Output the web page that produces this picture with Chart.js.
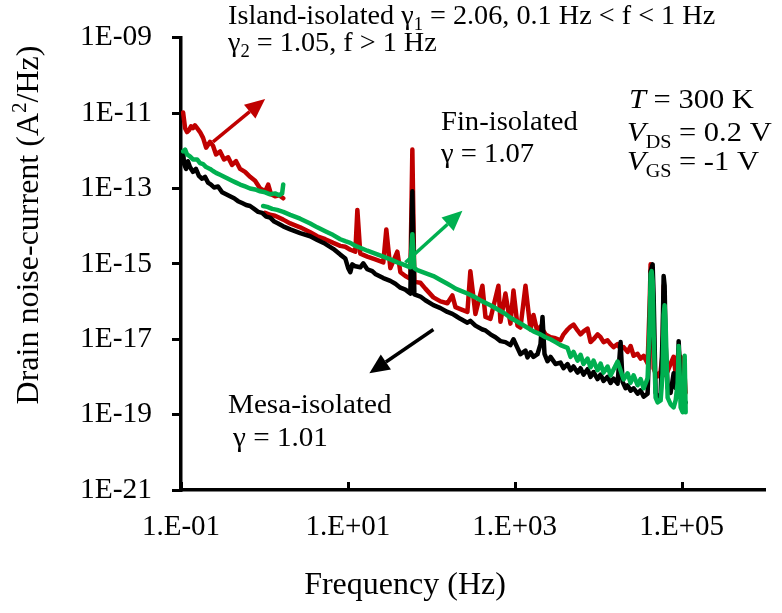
<!DOCTYPE html>
<html><head><meta charset="utf-8">
<script src="https://cdn.jsdelivr.net/npm/chart.js@4.4.1/dist/chart.umd.min.js"></script>
<style>html,body{margin:0;padding:0;background:#fff;}#wrap{width:782px;height:613px;}</style>
</head><body><div id="wrap"><canvas id="c" width="782" height="613"></canvas></div>
<script>
const xTickValues = [0.1, 10, 1000, 100000];
const xTickLabels = ['1.E-01', '1.E+01', '1.E+03', '1.E+05'];
const yTickValues = [1e-21, 1e-19, 1e-17, 1e-15, 1e-13, 1e-11, 1e-9];
const yTickLabels = ['1E-21', '1E-19', '1E-17', '1E-15', '1E-13', '1E-11', '1E-09'];

// [frequency (Hz), drain noise-current (A^2/Hz)]; null marks the break between measurement ranges
const islandPoints = [
[0.106,1.03e-11],[0.112,3.98e-12],[0.118,3.14e-12],[0.125,3.53e-12],[0.132,4.48e-12],[0.139,3.98e-12],[0.147,4.75e-12],[0.156,3.98e-12],[0.169,3.14e-12],[0.184,2.20e-12],[0.200,1.21e-12],[0.223,1.73e-12],[0.242,1.36e-12],[0.263,8.0e-13],[0.294,9.6e-13],[0.328,5.9e-13],[0.367,6.7e-13],[0.409,4.2e-13],[0.457,5.3e-13],[0.511,3.3e-13],[0.586,2.75e-13],[0.673,2.04e-13],[0.773,1.61e-13],[0.888,1.00e-13],[1.02,8.4e-14],[1.11,1.27e-13],[1.20,7.0e-14],[1.34,6.2e-14],[1.50,6.6e-14],[1.68,5.5e-14],
[1.70,null],
[1.02,2.26e-14],[1.17,2.0e-14],[1.34,1.89e-14],[1.68,1.49e-14],[2.04,1.18e-14],[2.68,9.3e-15],[3.54,6.9e-15],[4.30,5.4e-15],[5.36,4.5e-15],[6.68,3.6e-15],[8.11,3.0e-15],[9.31,2.83e-15],[10.7,2.37e-15],[12.3,2.10e-15],[13.0,2.7e-14],[14.1,1.87e-15],[17.1,1.56e-15],[21.3,1.31e-15],[26.6,1.09e-15],[28.9,8.2e-15],[32.3,7.7e-16],[39.2,2.10e-15],[42.6,6.0e-16],[48.9,4.75e-16],[56.1,4.0e-16],[59.3,1.08e-12],[62.7,3.33e-16],[74.0,3.14e-16],[84.9,2.20e-16],[106,1.29e-16],[129,1.01e-16],[156,9.0e-17],[179,1.45e-16],[195,7.1e-17],[223,6.3e-17],[271,5.3e-17],[294,6.4e-16],[338,4.7e-17],[410,2.62e-16],[446,3.9e-17],[512,3.48e-17],[638,2.62e-16],[675,2.9e-17],[774,1.63e-16],[889,2.59e-17],[966,1.95e-16],[1079,2.30e-17],[1172,2.04e-17],[1346,2.62e-16],[1545,1.81e-17],[1679,4.4e-17],[1875,1.52e-17],[2037,2.17e-17],[2339,1.35e-17],[2685,1.13e-17],[3083,1.06e-17],[3540,9.4e-18],[3846,1.35e-17],[4295,1.81e-17],[4667,2.17e-17],[5070,2.44e-17],[5662,1.71e-17],[6152,1.35e-17],[6683,1.61e-17],[7464,1.92e-17],[8110,8.4e-18],[8810,1.00e-17],[9840,1.35e-17],[10690,1.13e-17],[11610,8.4e-18],[12970,9.4e-18],[14090,7.4e-18],[15310,6.2e-18],[17100,7.4e-18],[18580,5.5e-18],[20180,6.2e-18],[22540,4.6e-18],[24490,6.6e-18],[26610,3.64e-18],[29720,4.1e-18],[32280,3.05e-18],[35080,3.64e-18],[39170,2.26e-18],[41400,8.0e-17],[42560,9.7e-16],[43750,7.7e-16],[44980,8.0e-17],[46240,1.68e-18],[48870,1.25e-18],[51640,1.04e-18],[56100,1.41e-18],[59290,4.1e-18],[60950,2.62e-16],[62660,1.35e-17],[64420,1.11e-18],[68080,1.41e-18],[73960,2.26e-18],[80350,3.43e-18],[84920,1.25e-18],[89740,3.05e-18],[92260,5.5e-18],[94840,2.26e-18],[97500,3.43e-18],[103000,2.55e-18],[105900,3.05e-18],[111900,3.8e-19]
];
const mesaPoints = [
[0.106,9.0e-13],[0.109,4.4e-13],[0.115,3.3e-13],[0.121,5.3e-13],[0.128,3.7e-13],[0.139,2.75e-13],[0.151,3.3e-13],[0.164,2.16e-13],[0.179,1.81e-13],[0.194,2.04e-13],[0.211,1.43e-13],[0.229,1.27e-13],[0.249,1.06e-13],[0.278,1.13e-13],[0.311,7.9e-14],[0.347,7.0e-14],[0.387,6.2e-14],[0.433,5.5e-14],[0.483,4.6e-14],[0.540,4.1e-14],[0.603,3.64e-14],[0.673,3.43e-14],[0.752,2.87e-14],[0.840,2.40e-14],[0.938,2.26e-14],[1.05,1.79e-14],[1.17,1.68e-14],[1.31,1.33e-14],[1.46,1.18e-14],[1.68,9.9e-15],[2.04,8.2e-15],[2.68,6.5e-15],[3.54,5.4e-15],[4.30,4.3e-15],[5.36,3.4e-15],[6.68,2.51e-15],[8.11,1.76e-15],[9.31,1.39e-15],[10.1,7.7e-16],[10.7,6.0e-16],[11.3,9.7e-16],[12.3,8.6e-16],[14.1,8.1e-16],[15.3,1.03e-15],[17.1,7.2e-16],[19.6,6.4e-16],[21.3,5.4e-16],[26.6,4.2e-16],[32.3,3.53e-16],[37.1,2.96e-16],[42.6,2.33e-16],[48.9,2.07e-16],[56.1,1.63e-16],[59.3,8.4e-14],[62.7,1.54e-16],[74.0,1.36e-16],[84.9,1.08e-16],[106,8.0e-17],[129,6.7e-17],[156,5.3e-17],[179,4.7e-17],[195,4.2e-17],[223,3.48e-17],[271,2.75e-17],[294,3.09e-17],[338,2.30e-17],[410,1.81e-17],[446,1.71e-17],[512,1.35e-17],[588,1.13e-17],[675,8.9e-18],[774,8.4e-18],[889,7.0e-18],[966,1.00e-17],
[1079,5.9e-18],[1172,4.0e-18],[1346,5.0e-18],[1422,3.3e-18],[1545,4.5e-18],[1679,3.4e-18],[1875,4.0e-18],[2037,7.4e-18],[2153,3.9e-17],[2275,4.1e-18],[2474,2.6e-18],[2685,3.4e-18],[3083,2.2e-18],[3540,2.4e-18],[3846,1.7e-18],[4295,2.2e-18],[4667,1.5e-18],[5070,1.9e-18],[5662,1.3e-18],[6152,1.7e-18],[6683,1.15e-18],[7464,1.6e-18],[8110,1.0e-18],[8810,1.35e-18],[9840,8.8e-19],[10690,1.15e-18],[11610,7.8e-19],[12970,1.0e-18],[14090,6.9e-19],[15310,9.0e-19],[17100,6.6e-19],[18580,8.4e-18],[19630,7.4e-19],[21330,5.0e-19],[22540,6.0e-19],[24490,4.3e-19],[26610,5.0e-19],[29720,3.6e-19],[32280,4.4e-19],[35080,3.0e-19],[39170,3.6e-19],
[41400,1.35e-17],[42560,6.4e-16],[44980,9.7e-16],[46240,1.45e-16],[48870,3.8e-19],[51640,2.83e-19],[56100,3.4e-19],[59290,1.35e-17],[60950,4.75e-16],[62660,2.62e-16],[64420,7.4e-18],[68080,5.1e-19],[73960,3.8e-19],[80350,1.25e-18],[84920,5.1e-19],[89740,6.9e-19],[92260,8.9e-18],[94840,2.26e-18],[97500,5.1e-19],[103000,2.83e-19],[105900,2.10e-19],[111900,2.10e-19]
];
const finPoints = [
[0.106,9.6e-13],[0.112,1.08e-12],[0.118,8.0e-13],[0.128,7.1e-13],[0.139,5.9e-13],[0.156,5.9e-13],[0.169,4.7e-13],[0.184,4.4e-13],[0.200,3.7e-13],[0.223,3.3e-13],[0.242,2.9e-13],[0.263,2.59e-13],[0.294,2.30e-13],[0.328,2.04e-13],[0.367,1.81e-13],[0.409,1.61e-13],[0.457,1.43e-13],[0.511,1.27e-13],[0.586,1.13e-13],[0.673,1.00e-13],[0.773,9.4e-14],[0.888,8.4e-14],[1.02,7.9e-14],[1.17,7.0e-14],[1.34,7.4e-14],[1.50,6.6e-14],[1.63,7.4e-14],[1.68,1.27e-13],
[1.70,null],
[0.964,3.43e-14],[1.08,3.24e-14],[1.24,2.87e-14],[1.42,2.7e-14],[1.68,2.40e-14],[2.04,2.0e-14],[2.68,1.58e-14],[3.54,1.18e-14],[4.30,9.3e-15],[5.36,7.3e-15],[6.68,5.8e-15],[8.11,4.5e-15],[9.31,4.0e-15],[10.7,3.6e-15],[12.3,3.0e-15],[14.1,2.67e-15],[17.1,2.23e-15],[21.3,1.87e-15],[26.6,1.56e-15],[32.3,1.31e-15],[39.2,1.09e-15],[42.6,1.03e-15],[48.9,9.1e-16],[56.1,8.1e-16],[59.3,6.1e-15],[62.7,7.7e-16],[68.1,6.8e-16],[84.9,5.7e-16],[106,4.75e-16],[129,3.75e-16],[156,2.96e-16],[179,2.48e-16],[195,2.20e-16],[223,1.95e-16],[271,1.63e-16],[338,1.29e-16],[410,1.01e-16],[512,8.0e-17],[675,5.6e-17],[774,4.7e-17],[889,3.7e-17],[1079,2.9e-17],[1346,2.17e-17],[1679,1.61e-17],[2037,1.35e-17],[2339,1.13e-17],[2685,1.00e-17],[3083,8.4e-18],[3540,7.0e-18],
[4295,5.9e-18],[4667,3.4e-18],[5070,4.6e-18],[5662,2.7e-18],[6152,3.87e-18],[6683,2.2e-18],[7464,3.05e-18],[8110,1.8e-18],[8810,2.7e-18],[9840,1.5e-18],[10690,2.26e-18],[11610,1.3e-18],[12970,1.89e-18],[14090,1.1e-18],[15310,1.58e-18],[17100,2.55e-18],[18580,1.49e-18],[20180,8.6e-19],[22540,1.25e-18],[24490,7.0e-19],[26610,1.11e-18],[29720,6.0e-19],[32280,8.8e-19],[35080,5.0e-19],[37240,6.9e-19],[39170,9.3e-19],
[41400,2.44e-17],[42560,5.4e-16],[43750,6.4e-16],[44980,3.53e-16],[46240,1.35e-17],[48870,2.83e-19],[51640,2.10e-19],[56100,2.37e-19],[59290,1.25e-18],[60950,4.4e-17],[62660,8.0e-17],[64420,2.44e-17],[68080,2.83e-19],[73960,1.87e-19],[80350,1.56e-19],[84920,2.37e-19],[89740,6.9e-19],[92260,6.6e-18],[94840,1.25e-18],[97500,1.56e-19],[103000,1.16e-19],[105900,1.31e-19],[108900,3.64e-18],[111900,1.16e-19]
];

const SERIF = '"Liberation Serif","Times New Roman",serif';
const RED = '#C00000', GREEN = '#00B050', BLACK = '#000000';

// arrows in data coordinates
const arrows = [
  {from: [0.242, 1.73e-12], to: [1.02, 2.37e-11], color: RED},
  {from: [48.9, 1.09e-15], to: [236, 2.55e-14], color: GREEN},
  {from: [106, 1.81e-17], to: [18.1, 1.25e-18], color: BLACK}
];

function toXY(pts) { return pts.map(p => ({x: p[0], y: p[1]})); }

function rich(ctx, x, y, parts, size, align, sx) {
  sx = sx || 1;
  const fontFor = p => {
    let fs = size, st = '';
    if (p.s === 'sub' || p.s === 'sup') fs = size * 0.66;
    if (p.i) st = 'italic ';
    return st + fs + 'px ' + SERIF;
  };
  let total = 0;
  for (const p of parts) { ctx.font = fontFor(p); total += ctx.measureText(p.t).width; }
  ctx.save();
  ctx.translate(x, y);
  ctx.scale(sx, 1);
  let cx = align === 'center' ? -total / 2 : 0;
  ctx.textAlign = 'left';
  ctx.textBaseline = 'alphabetic';
  for (const p of parts) {
    ctx.font = fontFor(p);
    let dy = 0;
    if (p.s === 'sub') dy = size * 0.24;
    if (p.s === 'sup') dy = -size * 0.36;
    ctx.fillText(p.t, cx, dy);
    cx += ctx.measureText(p.t).width;
  }
  ctx.restore();
}

function drawArrow(ctx, x1, y1, x2, y2, color) {
  const a = Math.atan2(y2 - y1, x2 - x1), hl = 20, hw = 9;
  const bx = x2 - hl * Math.cos(a), by = y2 - hl * Math.sin(a);
  ctx.strokeStyle = color; ctx.lineWidth = 3.5; ctx.lineCap = 'butt';
  ctx.beginPath(); ctx.moveTo(x1, y1); ctx.lineTo(bx, by); ctx.stroke();
  ctx.fillStyle = color; ctx.beginPath();
  ctx.moveTo(x2, y2);
  ctx.lineTo(bx + hw * Math.sin(a), by - hw * Math.cos(a));
  ctx.lineTo(bx - hw * Math.sin(a), by + hw * Math.cos(a));
  ctx.closePath(); ctx.fill();
}

const decor = {
  id: 'decor',
  afterDatasetsDraw(chart) {
    const ctx = chart.ctx, xs = chart.scales.x, ys = chart.scales.y;
    ctx.save();
    ctx.strokeStyle = '#000'; ctx.lineWidth = 3;
    for (const v of xTickValues) {
      const px = Math.round(xs.getPixelForValue(v)) + 0.5;
      ctx.beginPath(); ctx.moveTo(px, ys.bottom); ctx.lineTo(px, ys.bottom - 8); ctx.stroke();
    }
    for (const a of arrows) {
      drawArrow(ctx, xs.getPixelForValue(a.from[0]), ys.getPixelForValue(a.from[1]),
                xs.getPixelForValue(a.to[0]), ys.getPixelForValue(a.to[1]), a.color);
    }
    ctx.fillStyle = '#000';
    const S = 27;
    rich(ctx, 228, 24, [{t: 'Island-isolated γ'}, {t: '1', s: 'sub'}, {t: ' = 2.06, 0.1 Hz < f < 1 Hz'}], S, 'left', 1.045);
    rich(ctx, 228, 51, [{t: 'γ'}, {t: '2', s: 'sub'}, {t: ' = 1.05, f > 1 Hz'}], S, 'left', 1.045);
    rich(ctx, 629, 108, [{t: 'T', i: true}, {t: ' = 300 K'}], 28, 'left', 1.09);
    rich(ctx, 627, 141, [{t: 'V', i: true}, {t: 'DS', s: 'sub'}, {t: ' = 0.2 V'}], 28, 'left', 1.09);
    rich(ctx, 627, 170, [{t: 'V', i: true}, {t: 'GS', s: 'sub'}, {t: ' = -1 V'}], 28, 'left', 1.09);
    rich(ctx, 441, 130, [{t: 'Fin-isolated'}], S, 'left', 1.06);
    rich(ctx, 441, 162, [{t: 'γ = 1.07'}], S, 'left', 1.06);
    rich(ctx, 228, 413, [{t: 'Mesa-isolated'}], S, 'left', 1.08);
    rich(ctx, 233, 446, [{t: 'γ = 1.01'}], S, 'left', 1.08);
    rich(ctx, 405, 594, [{t: 'Frequency (Hz)'}], 32, 'center', 1.0);
    ctx.translate(38, 225); ctx.rotate(-Math.PI / 2);
    rich(ctx, 0, 0, [{t: 'Drain noise-current (A'}, {t: '2', s: 'sup'}, {t: '/Hz)'}], 32, 'center', 1.0);
    ctx.restore();
  }
};

const lineDs = (label, pts, color, order) => ({
  label, data: toXY(pts), showLine: true, borderColor: color, backgroundColor: color,
  borderWidth: 4.5, pointRadius: 0, tension: 0, spanGaps: false, order,
  borderJoinStyle: 'round', borderCapStyle: 'round'
});

new Chart(document.getElementById('c'), {
  type: 'scatter',
  data: {
    datasets: [
      lineDs('Fin-isolated', finPoints, GREEN, 1),
      lineDs('Mesa-isolated', mesaPoints, BLACK, 2),
      lineDs('Island-isolated', islandPoints, RED, 3)
    ]
  },
  options: {
    responsive: false, animation: false, devicePixelRatio: 1,
    layout: {padding: {top: 25, right: 17, left: 0, bottom: 0}},
    plugins: {legend: {display: false}, tooltip: {enabled: false}},
    scales: {
      x: {
        type: 'logarithmic', position: 'bottom', min: 0.1, max: 1e6,
        afterBuildTicks: s => { s.ticks = xTickValues.map(v => ({value: v})); },
        afterFit: s => { s.height = 123; },
        ticks: {callback: (v, i) => xTickLabels[i], font: {family: SERIF, size: 29}, color: '#000',
                padding: 12, maxRotation: 0, autoSkip: false},
        grid: {display: false},
        border: {display: true, color: '#000', width: 3.5}
      },
      y: {
        type: 'logarithmic', min: 1e-21, max: 1e-9,
        afterBuildTicks: s => { s.ticks = yTickValues.map(v => ({value: v})); },
        afterFit: s => { s.width = 181; },
        ticks: {callback: (v, i) => yTickLabels[i], font: {family: SERIF, size: 29.5}, color: '#000',
                padding: 20, autoSkip: false},
        grid: {display: true, drawOnChartArea: false, drawTicks: true, tickLength: 9, lineWidth: 3, color: '#000'},
        border: {display: true, color: '#000', width: 3.5}
      }
    }
  },
  plugins: [decor]
});
</script></body></html>
